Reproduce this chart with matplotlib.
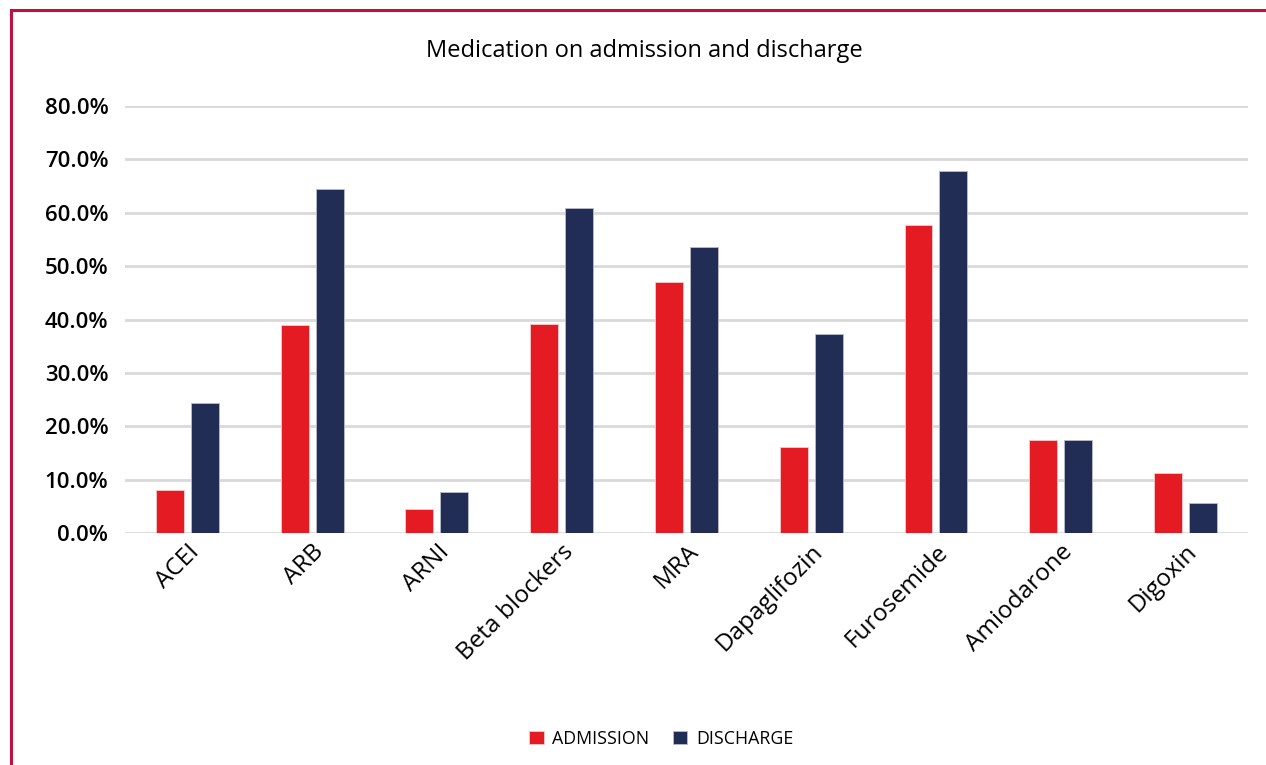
import matplotlib
matplotlib.use("Agg")
import matplotlib.pyplot as plt
import matplotlib.ticker as mticker
from matplotlib.lines import Line2D
import numpy as np

plt.rcParams['font.family'] = ['Open Sans', 'DejaVu Sans']

drugs = ["ACEI", "ARB", "ARNI", "Beta blockers", "MRA", "Dapaglifozin",
         "Furosemide", "Amiodarone", "Digoxin"]
admission = [8.0, 39.0, 4.4, 39.1, 47.0, 16.2, 57.7, 17.4, 11.2]
discharge = [24.3, 64.4, 7.7, 60.9, 53.5, 37.2, 67.8, 17.4, 5.6]

red = "#E41B23"
navy = "#222D56"
frame = "#C0103F"

fig = plt.figure(figsize=(12.66, 7.65), dpi=100)
ax = fig.add_axes([0.0987, 0.3033, 0.8870, 0.5581])

x = np.arange(len(drugs))
w = 0.224
ax.bar(x - 0.14, np.array(admission) / 100, w, color=red,
       edgecolor="#f4c9cb", linewidth=0.6, label="ADMISSION", zorder=3)
ax.bar(x + 0.14, np.array(discharge) / 100, w, color=navy,
       edgecolor="#b8bccb", linewidth=0.6, label="DISCHARGE", zorder=3)

ax.set_xlim(-0.5, len(drugs) - 0.5)
ax.set_ylim(0, 0.8)
ax.yaxis.set_major_locator(mticker.MultipleLocator(0.1))
ax.yaxis.set_major_formatter(mticker.PercentFormatter(1.0, decimals=1))
ax.grid(axis="y", color="#D9D9D9", linewidth=2, zorder=0)
ax.set_axisbelow(True)
for s in ax.spines.values():
    s.set_visible(False)
ax.tick_params(length=0)
ax.tick_params(axis="y", labelsize=16, pad=12)
ax.set_xticks(x)
ax.set_xticklabels(drugs, rotation=45, ha="right", rotation_mode="anchor",
                   fontsize=17.5)
ax.tick_params(axis="x", pad=5)
for lab in ax.get_yticklabels():
    lab.set_fontweight("semibold")

fig.text(0.509, 0.933, "Medication on admission and discharge",
         ha="center", va="center", fontsize=17)

ax.legend(loc="center", bbox_to_anchor=(0.4775, -0.482), ncol=2,
          frameon=False, fontsize=12.8, handlelength=0.8, handleheight=0.8,
          columnspacing=1.3, handletextpad=0.5)

# crimson frame along the top and left edges
fig.add_artist(Line2D([0.0083, 1.0], [0.9863, 0.9863], color=frame,
                      linewidth=2.2, transform=fig.transFigure))
fig.add_artist(Line2D([0.0083, 0.0083], [0.0, 0.9863], color=frame,
                      linewidth=2.2, transform=fig.transFigure))

fig.savefig("out.png", dpi=100, facecolor="white")
